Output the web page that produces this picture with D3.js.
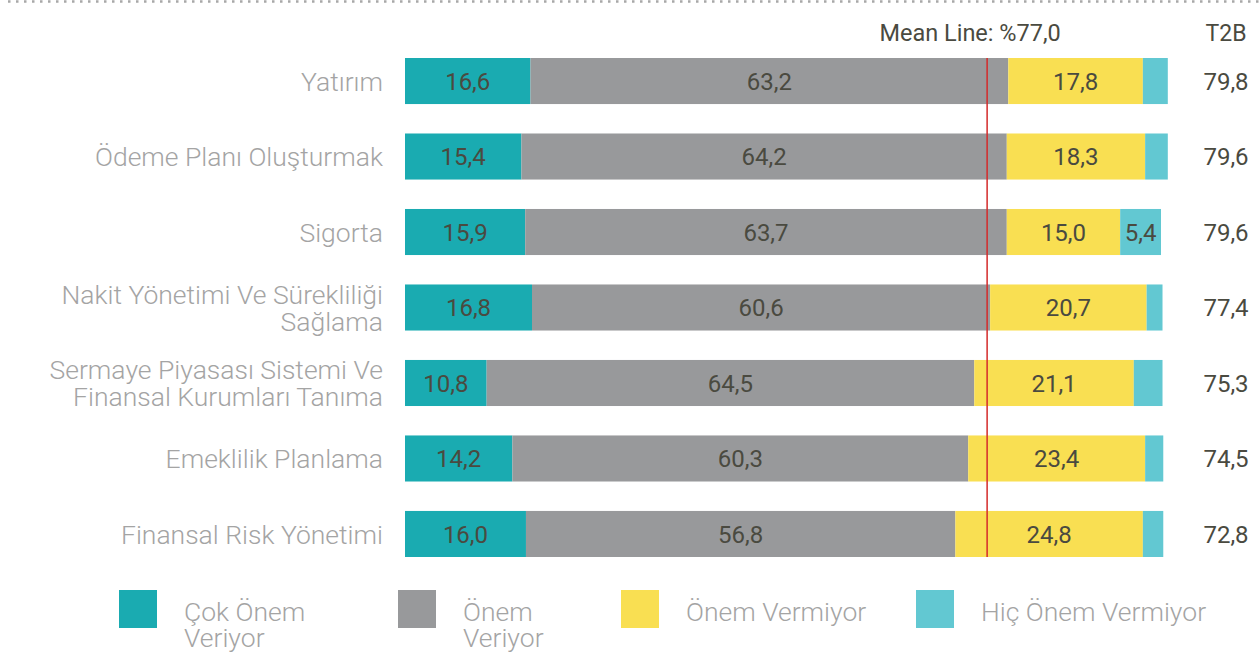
<!DOCTYPE html>
<html>
<head>
<meta charset="utf-8">
<script src="https://cdn.jsdelivr.net/npm/d3@7"></script>
<style>
  body { margin: 0; background: #fff; }
  text { font-family: Roboto, "Open Sans", sans-serif; }
  .light { font-family: "Roboto Light", Roboto, sans-serif; font-weight: 300; }
</style>
</head>
<body>
<script>
// data
let categories = [
  ['Yatırım'],
  ['Ödeme Planı Oluşturmak'],
  ['Sigorta'],
  ['Nakit Yönetimi Ve Sürekliliği', 'Sağlama'],
  ['Sermaye Piyasası Sistemi Ve', 'Finansal Kurumları Tanıma'],
  ['Emeklilik Planlama'],
  ['Finansal Risk Yönetimi']
];
let cokOnem = [16.6, 15.4, 15.9, 16.8, 10.8, 14.2, 16.0];
let onem = [63.2, 64.2, 63.7, 60.6, 64.5, 60.3, 56.8];
let onemVermiyor = [17.8, 18.3, 15.0, 20.7, 21.1, 23.4, 24.8];
let hicOnem = [3.3, 3.0, 5.4, 2.1, 3.8, 2.4, 2.7];
let t2b = [79.8, 79.6, 79.6, 77.4, 75.3, 74.5, 72.8];
let meanValue = 77.0;

let seriesNames = ['Çok Önem Veriyor', 'Önem Veriyor', 'Önem Vermiyor', 'Hiç Önem Vermiyor'];
let legendLines = [['Çok Önem', 'Veriyor'], ['Önem', 'Veriyor'], ['Önem Vermiyor'], ['Hiç Önem Vermiyor']];
let colors = ['#1aabb1', '#98999b', '#f9df52', '#62c8d2'];

let width = 1260,
    height = 663;

let fmt = v => d3.format('.1f')(v).replace('.', ',');

let svg = d3.select('body')
  .append('svg')
    .attr('width', width)
    .attr('height', height);

// dotted rule on top
svg.append('line')
  .attr('x1', 8)
  .attr('x2', width)
  .attr('y1', 1.5)
  .attr('y2', 1.5)
  .attr('stroke', '#a8a8a8')
  .attr('stroke-width', 2.5)
  .attr('stroke-dasharray', '2.5,5.5');

let idx = d3.range(categories.length);

let xScale = d3.scaleLinear()
  .domain([0, 100])
  .range([405, 1161]);

let yScale = d3.scaleBand()
  .domain(idx)
  .range([58, 557])
  .paddingInner(0.39)
  .paddingOuter(0);

let rows = idx.map(i => [cokOnem[i], onem[i], onemVermiyor[i], hicOnem[i]]);

let rowG = svg.selectAll('.row')
  .data(rows)
  .enter().append('g')
  .attr('class', 'row')
  .attr('transform', (d, i) => `translate(0,${yScale(i)})`);

let segs = rowG.selectAll('.seg')
  .data(d => {
    let acc = 0;
    return d.map((v, k) => {
      let s = { v: v, k: k, x0: acc, x1: acc + v };
      acc += v;
      return s;
    });
  })
  .enter().append('g')
  .attr('class', 'seg');

segs.append('rect')
  .attr('x', d => xScale(d.x0))
  .attr('width', d => xScale(d.x1) - xScale(d.x0))
  .attr('height', yScale.bandwidth())
  .attr('fill', d => colors[d.k]);

segs.filter(d => d.v >= 5)
  .append('text')
  .attr('x', d => (xScale(d.x0) + xScale(d.x1)) / 2)
  .attr('y', yScale.bandwidth() / 2)
  .attr('dy', '0.36em')
  .attr('text-anchor', 'middle')
  .style('font-size', '24px')
  .style('fill', '#4a4a40')
  .text(d => fmt(d.v));

// category labels
let catText = svg.selectAll('.cat')
  .data(categories)
  .enter().append('text')
  .attr('class', 'cat light')
  .attr('text-anchor', 'end')
  .style('font-size', '26.5px')
  .style('fill', '#a4a4a4');

catText.selectAll('tspan')
  .data((d, i) => d.map((line, j) => ({ line: line, j: j, n: d.length, i: i })))
  .enter().append('tspan')
  .attr('x', 383)
  .attr('y', d => yScale(d.i) + yScale.bandwidth() / 2 + (d.j - (d.n - 1) / 2) * 27)
  .attr('dy', '0.36em')
  .text(d => d.line);

// T2B column
svg.append('text')
  .attr('x', 1226)
  .attr('y', 33)
  .attr('dy', '0.36em')
  .attr('text-anchor', 'middle')
  .style('font-size', '23px')
  .style('fill', '#4a4a40')
  .text('T2B');

svg.selectAll('.t2b')
  .data(t2b)
  .enter().append('text')
  .attr('class', 't2b')
  .attr('x', 1226)
  .attr('y', (d, i) => yScale(i) + yScale.bandwidth() / 2)
  .attr('dy', '0.36em')
  .attr('text-anchor', 'middle')
  .style('font-size', '24px')
  .style('fill', '#4a4a40')
  .text(d => fmt(d));

// mean line
svg.append('line')
  .attr('x1', xScale(meanValue))
  .attr('x2', xScale(meanValue))
  .attr('y1', 58)
  .attr('y2', 557)
  .attr('stroke', '#d42a2a')
  .attr('stroke-width', 1.5);

svg.append('text')
  .attr('x', xScale(meanValue) - 17)
  .attr('y', 33)
  .attr('dy', '0.36em')
  .attr('text-anchor', 'middle')
  .style('font-size', '23.5px')
  .style('fill', '#4a4a40')
  .text('Mean Line: %' + fmt(meanValue));

// legend
let legendX = [119, 398, 621, 916];

let legendItems = svg.selectAll('.legend-item')
  .data(seriesNames)
  .enter().append('g')
  .attr('class', 'legend-item')
  .attr('transform', (d, i) => `translate(${legendX[i]},590)`);

legendItems.append('rect')
  .attr('width', 38)
  .attr('height', 38)
  .attr('fill', (d, i) => colors[i]);

legendItems.append('text')
  .attr('class', 'light')
  .style('font-size', '26.5px')
  .style('fill', '#a4a4a4')
  .selectAll('tspan')
  .data((d, i) => legendLines[i])
  .enter().append('tspan')
  .attr('x', 65)
  .attr('y', (d, j) => 21 + j * 26)
  .attr('dy', '0.36em')
  .text(d => d);
</script>
</body>
</html>
